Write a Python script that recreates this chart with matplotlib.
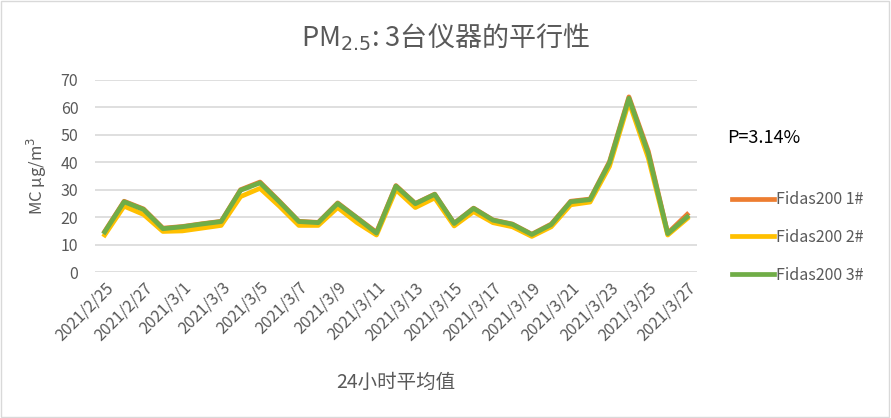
import matplotlib
matplotlib.use('Agg')
import matplotlib.pyplot as plt
from matplotlib.patches import Rectangle

plt.rcParams['font.family'] = ['Noto Sans CJK SC', 'DejaVu Sans']

# 24h averages, 2021/2/25 - 2021/3/27
dates = ['2021/2/25', '2021/2/26', '2021/2/27', '2021/2/28', '2021/3/1', '2021/3/2',
         '2021/3/3', '2021/3/4', '2021/3/5', '2021/3/6', '2021/3/7', '2021/3/8',
         '2021/3/9', '2021/3/10', '2021/3/11', '2021/3/12', '2021/3/13', '2021/3/14',
         '2021/3/15', '2021/3/16', '2021/3/17', '2021/3/18', '2021/3/19', '2021/3/20',
         '2021/3/21', '2021/3/22', '2021/3/23', '2021/3/24', '2021/3/25', '2021/3/26',
         '2021/3/27']
fidas1 = [14.8, 25.8, 23.0, 16.0, 16.6, 17.6, 18.5, 30.0, 32.8, 25.8, 18.5, 18.1,
          25.2, 19.8, 14.5, 31.5, 25.0, 28.4, 17.8, 23.3, 19.0, 17.5, 13.8, 17.5,
          25.8, 26.6, 40.2, 63.8, 44.0, 14.2, 21.0]
fidas2 = [13.5, 24.0, 21.0, 14.8, 15.0, 16.0, 17.0, 27.5, 30.5, 24.0, 17.0, 17.0,
          23.5, 18.0, 13.5, 30.0, 23.5, 27.0, 16.8, 22.0, 18.0, 16.5, 13.0, 16.5,
          24.5, 25.5, 38.5, 62.0, 41.5, 13.5, 19.5]
fidas3 = [14.6, 25.6, 22.8, 15.8, 16.5, 17.5, 18.4, 29.8, 32.5, 25.6, 18.4, 18.0,
          25.0, 19.7, 14.2, 31.3, 24.9, 28.3, 17.7, 23.2, 18.9, 17.4, 13.7, 17.3,
          25.6, 26.4, 39.8, 63.3, 43.2, 14.0, 20.1]
series_names = ['Fidas200 1#', 'Fidas200 2#', 'Fidas200 3#']
colors = ['#ED7D31', '#FFC000', '#70AD47']

fig = plt.figure(figsize=(8.91, 4.18), dpi=100)
ax = fig.add_axes([0.1066, 0.349, 0.6755, 0.460])

x = list(range(len(dates)))
for vals, name, c in zip([fidas1, fidas2, fidas3], series_names, colors):
    ax.plot(x, vals, color=c, lw=3.4, label=name)

ax.set_xlim(-0.5, len(dates) - 0.5)
ax.set_ylim(0, 70)
ax.set_yticks(range(0, 71, 10))
ax.grid(axis='y', color='#D9D9D9', lw=1.2)
ax.set_axisbelow(True)
for s in ax.spines.values():
    s.set_visible(False)
ax.tick_params(axis='both', length=0, colors='#595959', labelsize=11.5)
ax.tick_params(axis='y', pad=12)
ax.set_xticks(x[::2])
ax.set_xticklabels(dates[::2], rotation=45, ha='right', rotation_mode='anchor')
ax.tick_params(axis='x', pad=5)

ax.set_ylabel('MC μg/m$^3$', color='#595959', fontsize=12, labelpad=8)
ax.set_xlabel('24小时平均值', color='#595959', fontsize=14, labelpad=20)

fig.text(0.5, 0.91, 'PM$_{2.5}$: 3台仪器的平行性', ha='center', va='center',
         fontsize=19.5, color='#595959')
fig.text(0.816, 0.67, 'P=3.14%', ha='left', va='center', fontsize=13, color='black')

ax.legend(loc='center left', bbox_to_anchor=(1.035, 0.18), frameon=False,
          fontsize=11.5, labelcolor='#595959', handlelength=2.6, handletextpad=0.15,
          labelspacing=1.3)

fig.patches.append(Rectangle((0.001, 0.002), 0.997, 0.996, transform=fig.transFigure,
                             fill=False, edgecolor='#D9D9D9', lw=1))

fig.savefig('out.png', dpi=100)
